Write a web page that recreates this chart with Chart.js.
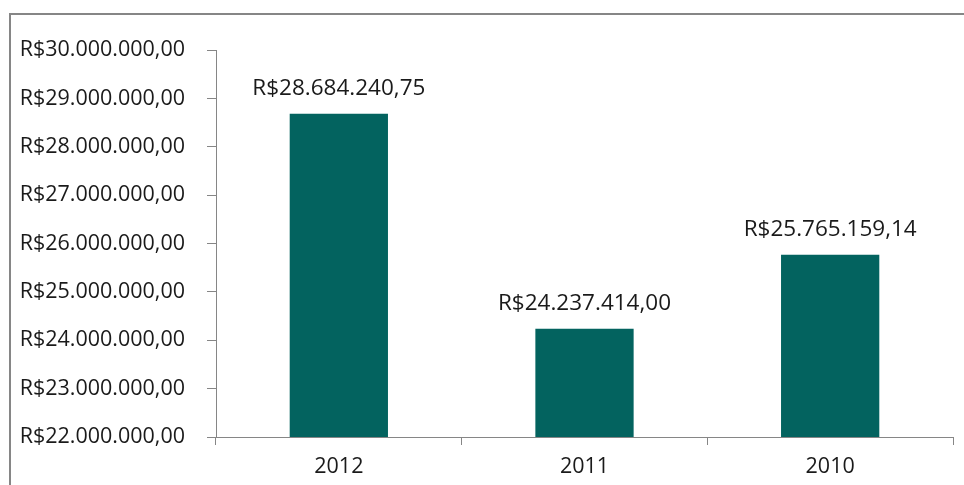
<!DOCTYPE html>
<html>
<head>
<meta charset="utf-8">
<script src="https://cdn.jsdelivr.net/npm/chart.js@4"></script>
<style>
  html, body { margin: 0; padding: 0; background: #fff; }
  #wrap { position: relative; width: 964px; height: 485px; }
</style>
</head>
<body>
<div id="wrap"><canvas id="grafico"></canvas></div>
<script>
// Dados
const anos = ['2012', '2011', '2010'];
const valores = [28684240.75, 24237414.00, 25765159.14];
const eixoMin = 22000000;
const eixoMax = 30000000;
const eixoPasso = 1000000;

const corBarra = '#03635F';
const corLinha = '#868686';
const corTexto = '#1a1a1a';
const fonte = "'Open Sans', Lato, sans-serif";

// formata como R$28.684.240,75
function reais(v) {
    const partes = v.toFixed(2).split('.');
    const inteiro = partes[0].replace(/\B(?=(\d{3})+(?!\d))/g, '.');
    return 'R$' + inteiro + ',' + partes[1];
}

// moldura cinza (só topo e esquerda aparecem)
const moldura = {
    id: 'moldura',
    beforeDraw(chart) {
        const ctx = chart.ctx;
        ctx.save();
        ctx.strokeStyle = corLinha;
        ctx.lineWidth = 2;
        ctx.beginPath();
        ctx.moveTo(10, 490);
        ctx.lineTo(10, 14);
        ctx.lineTo(970, 14);
        ctx.stroke();
        ctx.restore();
    }
};

// rótulos de valor acima das barras
const rotulos = {
    id: 'rotulos',
    afterDatasetsDraw(chart) {
        const ctx = chart.ctx;
        const meta = chart.getDatasetMeta(0);
        ctx.save();
        ctx.fillStyle = corTexto;
        ctx.font = '22.5px ' + fonte;
        ctx.textAlign = 'center';
        ctx.textBaseline = 'middle';
        meta.data.forEach((barra, i) => {
            ctx.fillText(reais(valores[i]), barra.x, barra.y - 25);
        });
        ctx.restore();
    }
};

new Chart(document.getElementById('grafico'), {
    type: 'bar',
    data: {
        labels: anos,
        datasets: [{
            data: valores,
            backgroundColor: corBarra,
            borderWidth: 0,
            categoryPercentage: 1,
            barPercentage: 0.4
        }]
    },
    options: {
        responsive: true,
        maintainAspectRatio: false,
        animation: false,
        events: [],
        layout: { padding: { top: 50, right: 11, left: 0, bottom: 0 } },
        plugins: {
            legend: { display: false },
            tooltip: { enabled: false }
        },
        scales: {
            y: {
                min: eixoMin,
                max: eixoMax,
                afterFit: s => { s.width = 216; },
                border: { color: corLinha, width: 1 },
                grid: { drawOnChartArea: false, drawTicks: true, tickLength: 9, color: corLinha },
                ticks: {
                    stepSize: eixoPasso,
                    padding: 22,
                    color: corTexto,
                    font: { family: fonte, size: 21.5 },
                    callback: v => reais(v)
                }
            },
            x: {
                afterFit: s => { s.height = 48; },
                border: { color: corLinha, width: 1 },
                grid: { drawOnChartArea: false, drawTicks: true, tickLength: 8, color: corLinha },
                ticks: {
                    padding: 9,
                    color: corTexto,
                    font: { family: fonte, size: 21.5 }
                }
            }
        }
    },
    plugins: [moldura, rotulos]
});
</script>
</body>
</html>
